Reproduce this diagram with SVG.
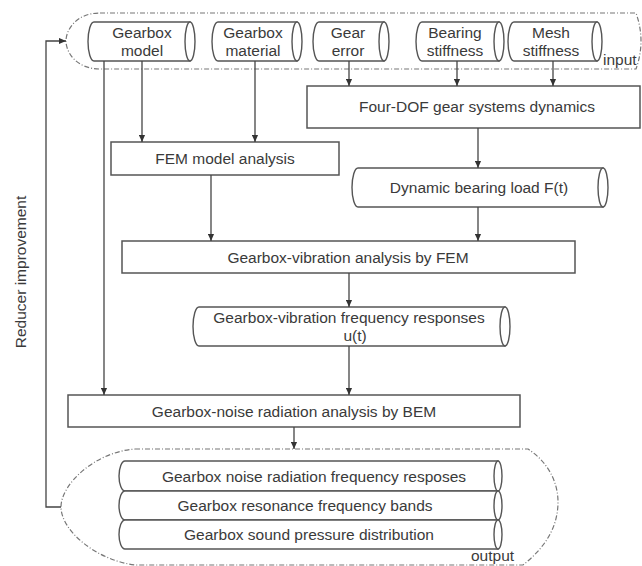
<svg xmlns="http://www.w3.org/2000/svg" width="642" height="566" viewBox="0 0 642 566">
<defs>
<marker id="arr" viewBox="0 0 8 8" refX="8" refY="4" markerWidth="7" markerHeight="7" markerUnits="userSpaceOnUse" orient="auto">
<path d="M0,0.5 L8,4 L0,7.5 Z" fill="#333"/>
</marker>
<style>
text{font-family:"Liberation Sans",Arial,sans-serif;font-size:15.5px;fill:#3a3a3a;text-anchor:middle}
.box{fill:#fff;stroke:#555;stroke-width:1.5}
.cyl{fill:#fff;stroke:#555;stroke-width:1.4}
.dash{fill:none;stroke:#777;stroke-width:1.2;stroke-dasharray:5 2 1 2}
.con{fill:none;stroke:#444;stroke-width:1.3}
.lbl{text-anchor:start}
</style>
</defs>
<rect width="642" height="566" fill="#fff"/>

<g id="input-group">
<path class="dash" d="M100,13 L636,13 Q646,41 636,69 L100,69 C76,69 66,52 66,41 C66,30 76,13 100,13 Z"/>
<text class="lbl" x="603" y="65">input</text>
</g>

<g id="gearbox-model">
<path class="cyl" d="M94,22 L190,22 L190,61 L94,61 A6,19.5 0 0 1 94,22 Z"/>
<ellipse class="cyl" cx="190" cy="41.5" rx="5" ry="19.5"/>
<text x="142" y="38">Gearbox</text><text x="142" y="56">model</text>
</g>
<g id="gearbox-material">
<path class="cyl" d="M218,22 L297,22 L297,61 L218,61 A6,19.5 0 0 1 218,22 Z"/>
<ellipse class="cyl" cx="297" cy="41.5" rx="5" ry="19.5"/>
<text x="253" y="38">Gearbox</text><text x="253" y="56">material</text>
</g>
<g id="gear-error">
<path class="cyl" d="M319,22 L384,22 L384,61 L319,61 A6,19.5 0 0 1 319,22 Z"/>
<ellipse class="cyl" cx="384" cy="41.5" rx="5" ry="19.5"/>
<text x="348" y="38">Gear</text><text x="348" y="56">error</text>
</g>
<g id="bearing-stiffness">
<path class="cyl" d="M422,22 L499,22 L499,61 L422,61 A6,19.5 0 0 1 422,22 Z"/>
<ellipse class="cyl" cx="499" cy="41.5" rx="5" ry="19.5"/>
<text x="455" y="38">Bearing</text><text x="455" y="56">stiffness</text>
</g>
<g id="mesh-stiffness">
<path class="cyl" d="M514,22 L597,22 L597,61 L514,61 A6,19.5 0 0 1 514,22 Z"/>
<ellipse class="cyl" cx="597" cy="41.5" rx="5" ry="19.5"/>
<text x="551" y="38">Mesh</text><text x="551" y="56">stiffness</text>
</g>

<g id="four-dof">
<rect class="box" x="307" y="86" width="333" height="42"/>
<text x="477" y="112">Four-DOF gear systems dynamics</text>
</g>

<g id="fem-model">
<rect class="box" x="111" y="142" width="228" height="33"/>
<text x="225" y="164">FEM model analysis</text>
</g>

<g id="dynamic-load">
<path class="cyl" d="M358,168 L603,168 L603,207 L358,207 A6,19.5 0 0 1 358,168 Z"/>
<ellipse class="cyl" cx="603" cy="187.5" rx="5" ry="19.5"/>
<text x="479" y="193">Dynamic bearing load F(t)</text>
</g>

<g id="vibration-fem">
<rect class="box" x="122" y="241" width="453" height="32"/>
<text x="348" y="263">Gearbox-vibration analysis by FEM</text>
</g>

<g id="vibration-response">
<path class="cyl" d="M199,307 L505,307 L505,346 L199,346 A6,19.5 0 0 1 199,307 Z"/>
<ellipse class="cyl" cx="505" cy="326.5" rx="5" ry="19.5"/>
<text x="349" y="323">Gearbox-vibration frequency responses</text>
<text x="355" y="341">u(t)</text>
</g>

<g id="noise-bem">
<rect class="box" x="68" y="395" width="452" height="32"/>
<text x="294" y="417">Gearbox-noise radiation analysis by BEM</text>
</g>

<g id="output-group">
<path class="dash" d="M135,449 L528,449 C548,462 558,482 558,502 C558,530 542,550 523,565 L135,565 C95,560 61,530 61,507 C61,484 95,452 135,449 Z"/>
<text class="lbl" x="471" y="561">output</text>
</g>

<g id="noise-freq">
<path class="cyl" d="M125,461 L498,461 L498,491 L125,491 A6,15 0 0 1 125,461 Z"/>
<ellipse class="cyl" cx="498" cy="476" rx="4" ry="15"/>
<text x="314" y="482">Gearbox noise radiation frequency resposes</text>
</g>
<g id="resonance">
<path class="cyl" d="M125,491 L498,491 L498,520 L125,520 A6,14.5 0 0 1 125,491 Z"/>
<ellipse class="cyl" cx="498" cy="505.5" rx="4" ry="14.5"/>
<text x="305" y="511">Gearbox resonance frequency bands</text>
</g>
<g id="sound-pressure">
<path class="cyl" d="M125,520 L498,520 L498,549 L125,549 A6,14.5 0 0 1 125,520 Z"/>
<ellipse class="cyl" cx="498" cy="534.5" rx="4" ry="14.5"/>
<text x="309" y="540">Gearbox sound pressure distribution</text>
</g>

<g id="feedback-label">
<text transform="translate(26,272) rotate(-90)">Reducer improvement</text>
</g>

<g id="connectors">
<path class="con" d="M349,61 L349,86" marker-end="url(#arr)"/>
<path class="con" d="M457,61 L457,86" marker-end="url(#arr)"/>
<path class="con" d="M553,61 L553,86" marker-end="url(#arr)"/>
<path class="con" d="M142,61 L142,142" marker-end="url(#arr)"/>
<path class="con" d="M255,61 L255,142" marker-end="url(#arr)"/>
<path class="con" d="M104,61 L104,395" marker-end="url(#arr)"/>
<path class="con" d="M478,128 L478,168" marker-end="url(#arr)"/>
<path class="con" d="M478,207 L478,241" marker-end="url(#arr)"/>
<path class="con" d="M211,175 L211,241" marker-end="url(#arr)"/>
<path class="con" d="M349,273 L349,307" marker-end="url(#arr)"/>
<path class="con" d="M349,346 L349,395" marker-end="url(#arr)"/>
<path class="con" d="M294,427 L294,449" marker-end="url(#arr)"/>
<path class="con" d="M61,507 L46,507 L46,41 L66,41" marker-end="url(#arr)"/>
</g>
</svg>
